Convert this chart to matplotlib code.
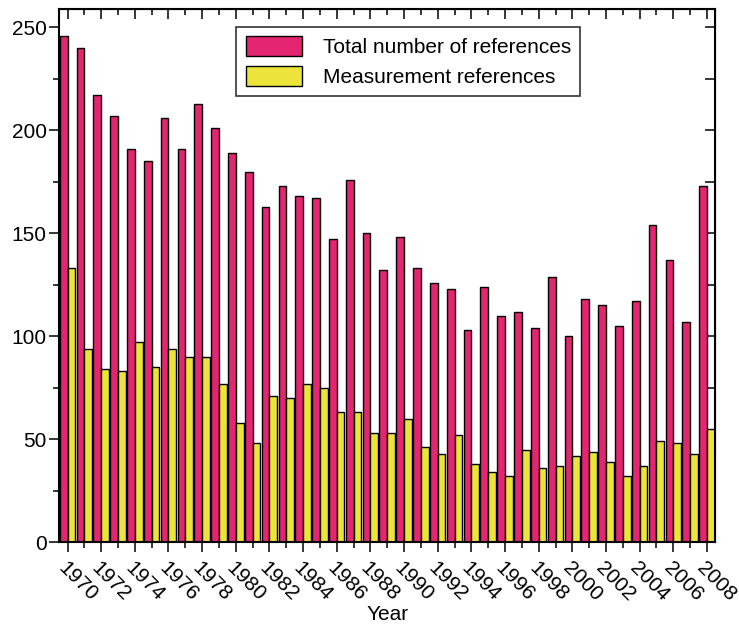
import matplotlib.pyplot as plt
from matplotlib.ticker import MultipleLocator
import numpy as np

plt.rcParams['font.family'] = ['Liberation Sans', 'DejaVu Sans']

years = np.arange(1970, 2009)
total_refs = [246, 240, 217, 207, 191, 185, 206, 191, 213, 201,
              189, 180, 163, 173, 168, 167, 147, 176, 150, 132,
              148, 133, 126, 123, 103, 124, 110, 112, 104, 129,
              100, 118, 115, 105, 117, 154, 137, 107, 173]
measurement_refs = [133, 94, 84, 83, 97, 85, 94, 90, 90, 77,
                    58, 48, 71, 70, 77, 75, 63, 63, 53, 53,
                    60, 46, 43, 52, 38, 34, 32, 45, 36, 37,
                    42, 44, 39, 32, 37, 49, 48, 43, 55]

pink = '#e3266f'
yellow = '#ece43a'
w = 0.46
fs = 15

fig = plt.figure(figsize=(7.39, 6.29), dpi=100)
ax = fig.add_axes([0.080, 0.138, 0.888, 0.848])

ax.bar(years, total_refs, width=-w, align='edge', color=pink,
       edgecolor='black', linewidth=1.0, label='Total number of references')
ax.bar(years, measurement_refs, width=w, align='edge', color=yellow,
       edgecolor='black', linewidth=1.0, label='Measurement references')

ax.set_xlim(1969.5, 2008.5)
ax.set_ylim(0, 259)

for s in ax.spines.values():
    s.set_linewidth(1.5)

# bottom / left ticks point outward
ax.xaxis.set_major_locator(MultipleLocator(2))
ax.xaxis.set_minor_locator(MultipleLocator(1))
ax.yaxis.set_major_locator(MultipleLocator(50))
ax.yaxis.set_minor_locator(MultipleLocator(25))
ax.tick_params(which='major', direction='out', length=7, width=1.1,
               labelsize=fs)
ax.tick_params(which='minor', direction='out', length=4.5, width=1.1)
ax.tick_params(axis='x', which='major', pad=5)
ax.tick_params(axis='y', which='major', pad=2)

ax.set_xticks(years[::2])
ax.set_xticklabels([str(y) for y in years[::2]], rotation=-45,
                   ha='left', va='top', rotation_mode='anchor')

# top / right ticks point inward
top = ax.secondary_xaxis('top')
top.xaxis.set_major_locator(MultipleLocator(2))
top.xaxis.set_minor_locator(MultipleLocator(1))
top.tick_params(which='major', direction='in', length=7, width=1.1,
                labeltop=False)
top.tick_params(which='minor', direction='in', length=4.5, width=1.1)
right = ax.secondary_yaxis('right')
right.yaxis.set_major_locator(MultipleLocator(50))
right.yaxis.set_minor_locator(MultipleLocator(25))
right.tick_params(which='major', direction='in', length=7, width=1.1,
                  labelright=False)
right.tick_params(which='minor', direction='in', length=7, width=1.1)

ax.set_xlabel('Year', fontsize=fs, labelpad=0)

leg = ax.legend(loc='upper left', bbox_to_anchor=(0.27, 0.966),
                borderaxespad=0, fancybox=False, fontsize=fs,
                handlelength=2.7, handleheight=1.1, handletextpad=1.0,
                borderpad=0.45, labelspacing=0.4)
leg.get_frame().set_edgecolor('black')
leg.get_frame().set_linewidth(1.2)

fig.savefig('out.png', dpi=100)
